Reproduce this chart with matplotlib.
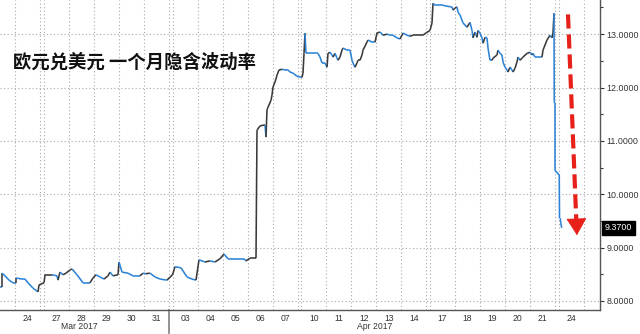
import numpy as np
import matplotlib
matplotlib.use("Agg")
import matplotlib.pyplot as plt
from matplotlib.collections import LineCollection
import matplotlib.transforms as mtransforms

# ---------------- data ----------------
# trading-day index: 0 = Mar 23, 1 = Mar 24, 2 = Mar 27 ... 22 = Apr 24
DAY_LABELS = ['23', '24', '27', '28', '29', '30', '31', '03', '04', '05', '06', '07',
              '10', '11', '12', '13', '14', '17', '18', '19', '20', '21', '24']
WEEK_STARTS = [2, 7, 12, 17, 22]
MONTH_LABELS = ['Mar 2017', 'Apr 2017']
MONTH_LABEL_T = [3.41, 14.95]
MONTH_SPLIT_T = 7

T = [0.40, 0.48, 0.48, 0.60, 0.76, 0.92, 1.04, 1.04, 1.28, 1.40, 1.52, 1.72, 1.92, 1.96,
     2.01, 2.05, 2.33, 2.53, 2.57, 2.65, 2.77, 2.89, 3.05, 3.13, 3.33, 3.57, 3.85, 3.97,
     4.09, 4.25, 4.41, 4.57, 4.65, 4.77, 4.97, 5.01, 5.13, 5.37, 5.57, 5.85, 5.97, 6.09,
     6.25, 6.45, 6.65, 6.93,
     7.00, 7.10, 7.34, 7.58, 7.78, 7.94, 8.06, 8.30, 8.50, 8.70, 8.90, 9.06, 9.22, 9.50,
     9.86, 9.94, 10.10, 10.34, 10.38, 10.50, 10.70, 10.74, 10.78, 10.82, 10.94, 10.98,
     11.02, 11.10, 11.18, 11.26, 11.38, 11.50, 11.62, 11.70, 11.82, 11.98,
     12.03, 12.07, 12.11, 12.15, 12.19, 12.27, 12.43, 12.55, 12.67, 12.75, 12.83, 12.95,
     13.03, 13.07, 13.15, 13.23, 13.27, 13.35, 13.43, 13.47, 13.55, 13.63, 13.67, 13.83,
     13.95, 14.03, 14.07, 14.15, 14.23, 14.27, 14.35, 14.43, 14.47, 14.63, 14.67, 14.83,
     14.95, 15.03, 15.15, 15.27, 15.43, 15.55, 15.67, 15.83, 15.95, 16.07, 16.23, 16.35,
     16.47, 16.63, 16.75, 16.87, 16.98,
     17.00, 17.08, 17.12, 17.20, 17.52, 17.72, 17.88, 17.92, 18.00, 18.08, 18.12, 18.20,
     18.32, 18.48, 18.60, 18.68, 18.72, 18.80, 18.88, 18.92, 19.00, 19.08, 19.12, 19.20,
     19.28, 19.32, 19.40, 19.48, 19.52, 19.68, 19.72, 19.80, 19.88, 19.92, 20.00, 20.08,
     20.12, 20.20, 20.28, 20.32, 20.40, 20.48, 20.52, 20.60, 20.68, 20.72, 20.88, 21.00,
     21.08, 21.12, 21.20, 21.32, 21.48, 21.52, 21.68, 21.80, 21.88, 21.92, 21.96, 21.97,
     21.98, 21.98, 21.99, 21.99,
     22.02, 22.03, 22.06, 22.08, 22.12]

VOL = [8.26, 8.26, 8.52, 8.47, 8.39, 8.34, 8.34, 8.43, 8.41, 8.41, 8.34, 8.24, 8.17, 8.30,
       8.34, 8.49, 8.49, 8.47, 8.39, 8.54, 8.49, 8.52, 8.58, 8.60, 8.49, 8.34, 8.34, 8.43,
       8.49, 8.45, 8.41, 8.47, 8.54, 8.47, 8.49, 8.73, 8.54, 8.52, 8.47, 8.47, 8.52, 8.51,
       8.52, 8.45, 8.41, 8.39,
       8.49, 8.64, 8.62, 8.45, 8.41, 8.39, 8.77, 8.73, 8.75, 8.73, 8.79, 8.88, 8.79, 8.79,
       8.79, 8.75, 8.80, 8.80, 11.20, 11.28, 11.30, 11.07, 11.58, 11.63, 11.76, 11.86,
       12.01, 12.10, 12.23, 12.33, 12.34, 12.33, 12.33, 12.29, 12.27, 12.21,
       12.19, 12.27, 12.64, 13.02, 12.64, 12.64, 12.64, 12.64, 12.64, 12.57, 12.46, 12.46,
       12.38, 12.64, 12.66, 12.61, 12.57, 12.64, 12.55, 12.51, 12.57, 12.70, 12.74, 12.70,
       12.70, 12.51, 12.46, 12.38, 12.46, 12.51, 12.51, 12.61, 12.70, 12.85, 12.89, 12.85,
       12.85, 13.02, 13.04, 12.98, 13.00, 12.98, 12.98, 12.93, 12.91, 13.02, 12.98, 12.96,
       12.98, 12.98, 12.98, 12.98, 13.02,
       13.07, 13.21, 13.58, 13.54, 13.54, 13.52, 13.51, 13.45, 13.49, 13.51, 13.41, 13.36,
       13.21, 13.13, 13.22, 13.07, 12.93, 13.04, 12.94, 13.07, 13.02, 12.93, 12.83, 12.94,
       12.93, 12.74, 12.51, 12.51, 12.55, 12.61, 12.70, 12.64, 12.61, 12.48, 12.38, 12.33,
       12.29, 12.38, 12.33, 12.29, 12.36, 12.48, 12.57, 12.51, 12.55, 12.57, 12.64, 12.66,
       12.61, 12.64, 12.57, 12.57, 12.57, 12.70, 12.89, 12.98, 12.93, 13.02, 13.39, 11.76,
       11.71, 11.01, 11.01, 10.45,
       10.36, 9.55, 9.55, 9.46, 9.37]

LAST_VALUE = 9.37
TITLE = '欧元兑美元 一个月隐含波动率'
Y_TICKS = [8, 9, 10, 11, 12, 13]
ARROW_FROM = (22.37, 13.37)
ARROW_TO = (22.73, 9.18)

GAP = 0.15
X_RANGE = (0.40, 24.40)
Y_RANGE = (7.83, 13.64)


def pos(t):
    t = np.asarray(t, dtype=float)
    return t + GAP * (t[..., None] >= np.array(WEEK_STARTS)).sum(axis=-1)


# ---------------- figure ----------------
plt.rcParams['font.family'] = ['Liberation Sans', 'DejaVu Sans']
fig = plt.figure(figsize=(6.4, 3.34), dpi=100)
ax = fig.add_axes([0.0, 24 / 334, 600 / 640, 310 / 334])
ax.set_xlim(*X_RANGE)
ax.set_ylim(*Y_RANGE)

grid_kw = dict(color='#a8a8a8', linestyle=(0, (1, 2.2)), linewidth=0.8)

# vertical grid at day boundaries
bounds = set()
for i in range(len(DAY_LABELS)):
    s = float(pos(i))
    bounds.add(round(s, 4))
    bounds.add(round(s + 1.0, 4))
for b in sorted(bounds):
    if X_RANGE[0] < b < X_RANGE[1]:
        ax.axvline(b, zorder=0, **grid_kw)

ax.set_yticks(Y_TICKS)
ax.set_yticks(np.arange(8.5, 13.6, 1.0), minor=True)
ax.yaxis.grid(True, which='major', **grid_kw)
ax.set_axisbelow(True)

# series: colour by direction
x = pos(np.array(T))
y = np.array(VOL)
pts = np.column_stack([x, y])
segs = np.stack([pts[:-1], pts[1:]], axis=1)
dark, blue = '#3a3a3a', '#2d83d6'
cols = []
prev = blue
for a, b in zip(y[:-1], y[1:]):
    if b > a:
        prev = dark
    elif b < a:
        prev = blue
    cols.append(prev)
lc = LineCollection(segs, colors=cols, linewidths=1.15, capstyle='butt', joinstyle='miter', zorder=3)
ax.add_collection(lc)

# axis styling
for s in ['top', 'left']:
    ax.spines[s].set_visible(False)
ax.spines['bottom'].set_color('#555555')
ax.spines['right'].set_color('#555555')
ax.spines['bottom'].set_linewidth(1.0)
ax.spines['right'].set_linewidth(1.0)

ax.yaxis.tick_right()
ax.yaxis.set_major_formatter(matplotlib.ticker.FormatStrFormatter('%.4f'))
ax.tick_params(axis='y', which='major', length=3, width=0.8, pad=1.5, labelsize=6.4,
               colors='#333333', direction='out')
ax.tick_params(axis='y', which='minor', length=2, width=0.8, color='#333333', direction='out')

centers = [float(pos(i)) + 0.5 for i in range(len(DAY_LABELS))]
keep = [(c, l) for c, l in zip(centers, DAY_LABELS) if c - 0.5 >= X_RANGE[0]]
ax.set_xticks([c for c, _ in keep])
ax.set_xticklabels([l for _, l in keep])
ax.tick_params(axis='x', length=0, pad=3, labelsize=6.2, colors='#333333')

trans = mtransforms.blended_transform_factory(ax.transData, ax.transAxes)
for lbl, t in zip(MONTH_LABELS, MONTH_LABEL_T):
    ax.text(float(pos(t)), -0.039, lbl, transform=trans, ha='center', va='top',
            fontsize=6.2, color='#333333')
sx = float(pos(MONTH_SPLIT_T - 1)) + 1.0
ax.plot([sx, sx], [0, -0.075], transform=trans, color='#8a8a8a', lw=1.3, clip_on=False)

# title
ax.text(0.022, 0.80, TITLE, transform=ax.transAxes, ha='left', va='center',
        fontsize=13.2, fontweight='bold', color='#111111',
        family=['Noto Sans CJK SC', 'DejaVu Sans'])

# last-value tag
ytrans = mtransforms.blended_transform_factory(ax.transAxes, ax.transData)
ax.text(1.008, LAST_VALUE, f'{LAST_VALUE:.4f}', transform=ytrans, ha='left', va='center',
        fontsize=6.4, color='white',
        bbox=dict(boxstyle='square,pad=0.28', fc='black', ec='black'), clip_on=False)

# red dashed arrow
x0, y0 = float(pos(ARROW_FROM[0])), ARROW_FROM[1]
x1, y1 = float(pos(ARROW_TO[0])), ARROW_TO[1]
frac = 0.95
xm, ym = x0 + (x1 - x0) * frac, y0 + (y1 - y0) * frac
ax.plot([x0, xm], [y0, ym], color='#e8201a', lw=3.0, dashes=(3.4, 1.4),
        solid_capstyle='butt', dash_capstyle='butt', zorder=4)
ax.annotate('', xy=(x1, y1), xytext=(xm, ym + 0.06),
            arrowprops=dict(arrowstyle='-|>,head_length=0.75,head_width=0.45',
                            color='#e8201a', lw=0.5, mutation_scale=15), zorder=4)

fig.savefig('out.png', dpi=100)
